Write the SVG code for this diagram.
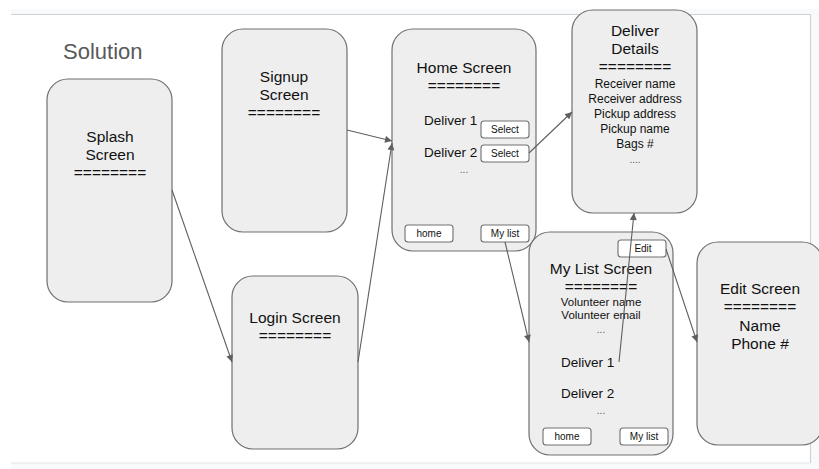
<svg xmlns="http://www.w3.org/2000/svg" width="819" height="469" viewBox="0 0 819 469">
<style>
.bg{fill:#f8f9fa}
.frame{fill:none;stroke:#d0d3d6;stroke-width:1.2}
.node{fill:#eeeeee;stroke:#707070;stroke-width:1.2}
.btn{fill:#ffffff;stroke:#707070;stroke-width:1.1}
text{font-family:"Liberation Sans",Arial,sans-serif;fill:#111;text-anchor:middle}
.t{font-size:15.5px}
.d{font-size:12px}
.v{font-size:11.5px}
.m{font-size:13.5px;text-anchor:start}
.b{font-size:10px}
.dots{font-size:10px;fill:#555}
.title{font-size:22px;fill:#595959;text-anchor:start}
.edge{fill:none;stroke:#5f5f5f;stroke-width:1.1}
</style>
<defs>
<marker id="ah" viewBox="0 0 10 10" refX="10" refY="5" markerWidth="8" markerHeight="7" markerUnits="userSpaceOnUse" orient="auto">
<path d="M0,0 L10,5 L0,10 z" fill="#5f5f5f"/>
</marker>
</defs>
<rect x="0" y="0" width="819" height="469" fill="#ffffff"/>
<rect class="bg" x="11" y="9" width="808" height="5"/>
<rect class="bg" x="811" y="9" width="8" height="460"/>
<rect class="bg" x="11" y="463" width="808" height="6"/>
<path class="frame" d="M11,14.5 H810.5 V463"/>
<line x1="11" y1="463" x2="810" y2="463" stroke="#e3e5e8" stroke-width="1"/>

<text class="title" x="63" y="59">Solution</text>

<g id="splash">
<rect class="node" x="47" y="79" width="125" height="223" rx="21"/>
<text class="t" x="110" y="142">Splash</text>
<text class="t" x="110" y="160">Screen</text>
<text class="t" x="110" y="178">========</text>
</g>

<g id="signup">
<rect class="node" x="222" y="29" width="125" height="203" rx="21"/>
<text class="t" x="284" y="82">Signup</text>
<text class="t" x="284" y="100">Screen</text>
<text class="t" x="284" y="118">========</text>
</g>

<g id="login">
<rect class="node" x="232" y="276" width="126" height="173" rx="21"/>
<text class="t" x="295" y="323">Login Screen</text>
<text class="t" x="295" y="341">========</text>
</g>

<g id="home">
<rect class="node" x="392" y="29" width="144" height="222" rx="21"/>
<text class="t" x="464" y="73">Home Screen</text>
<text class="t" x="464" y="91">========</text>
<text class="m" x="424" y="125">Deliver 1</text>
<text class="m" x="424" y="157">Deliver 2</text>
<text class="dots" x="464" y="173">...</text>
<rect class="btn" x="481" y="121" width="48" height="17" rx="3"/>
<text class="b" x="505" y="133">Select</text>
<rect class="btn" x="481" y="145" width="48" height="17" rx="3"/>
<text class="b" x="505" y="157">Select</text>
<rect class="btn" x="405" y="225" width="48" height="17" rx="3"/>
<text class="b" x="429" y="237">home</text>
<rect class="btn" x="481" y="225" width="48" height="17" rx="3"/>
<text class="b" x="505" y="237">My list</text>
</g>

<g id="details">
<rect class="node" x="572" y="10" width="125" height="203" rx="21"/>
<text class="t" x="635" y="36">Deliver</text>
<text class="t" x="635" y="54">Details</text>
<text class="t" x="635" y="72">========</text>
<text class="d" x="635" y="88">Receiver name</text>
<text class="d" x="635" y="103">Receiver address</text>
<text class="d" x="635" y="118">Pickup address</text>
<text class="d" x="635" y="133">Pickup name</text>
<text class="d" x="635" y="148">Bags #</text>
<text class="dots" x="635" y="163">....</text>
</g>

<g id="mylist">
<rect class="node" x="529" y="232" width="144" height="223" rx="21"/>
<rect class="btn" x="618" y="240" width="48" height="17" rx="3"/>
<text class="b" x="643" y="252">Edit</text>
<text class="t" x="601" y="274">My List Screen</text>
<text class="t" x="601" y="292">========</text>
<text class="v" x="601" y="306">Volunteer name</text>
<text class="v" x="601" y="319">Volunteer email</text>
<text class="dots" x="601" y="333">...</text>
<text class="m" x="561" y="367">Deliver 1</text>
<text class="m" x="561" y="398">Deliver 2</text>
<text class="dots" x="601" y="414">...</text>
<rect class="btn" x="543" y="428" width="48" height="17" rx="3"/>
<text class="b" x="567" y="440">home</text>
<rect class="btn" x="620" y="428" width="48" height="17" rx="3"/>
<text class="b" x="644" y="440">My list</text>
</g>

<g id="edit">
<rect class="node" x="697" y="242" width="126" height="203" rx="21"/>
<text class="t" x="760" y="294">Edit Screen</text>
<text class="t" x="760" y="312">========</text>
<text class="t" x="760" y="331">Name</text>
<text class="t" x="760" y="349">Phone #</text>
</g>

<g id="connectors">
<line class="edge" x1="172" y1="190" x2="232" y2="362" marker-end="url(#ah)"/>
<line class="edge" x1="347" y1="130" x2="392" y2="141" marker-end="url(#ah)"/>
<line class="edge" x1="358" y1="362" x2="392" y2="143" marker-end="url(#ah)"/>
<line class="edge" x1="529" y1="153" x2="572" y2="112" marker-end="url(#ah)"/>
<line class="edge" x1="505" y1="242" x2="529" y2="342" marker-end="url(#ah)"/>
<line class="edge" x1="619" y1="362" x2="634" y2="213" marker-end="url(#ah)"/>
<line class="edge" x1="666" y1="249" x2="697" y2="342" marker-end="url(#ah)"/>
</g>
</svg>
